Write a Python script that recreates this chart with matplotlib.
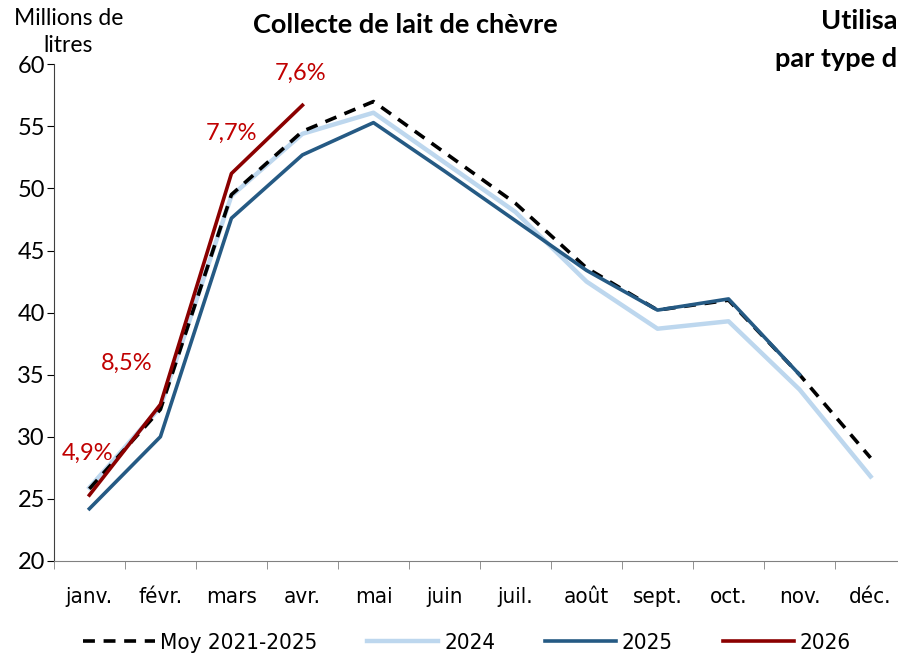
import numpy as np
import matplotlib

matplotlib.use("Agg")
import matplotlib.pyplot as plt
from matplotlib.ticker import FixedLocator, NullFormatter

# Monthly goat milk collection, millions of litres
months = ["janv.", "févr.", "mars", "avr.", "mai", "juin",
          "juil.", "août", "sept.", "oct.", "nov.", "déc."]
moy_2021_2025 = [25.8, 32.2, 49.5, 54.6, 57.0, 52.9, 48.8, 43.6, 40.2, 41.0, 35.0, 28.3]
y2024 = [25.9, 32.4, 49.4, 54.4, 56.1, 52.1, 48.1, 42.5, 38.7, 39.3, 33.8, 26.8]
y2025 = [24.2, 30.0, 47.6, 52.7, 55.3, 51.4, 47.4, 43.4, 40.2, 41.1, 35.0]
y2026 = [25.3, 32.6, 51.2, 56.7]

# year-on-year change labels for 2026
pct_labels = ["4,9%", "8,5%", "7,7%", "7,6%"]
pct_x = [-0.03, 0.52, 2.0, 2.97]
pct_y = [28.7, 35.9, 54.4, 59.3]

RED = "#8B0000"
DARK_BLUE = "#255A84"
LIGHT_BLUE = "#BDD7EE"
LABEL_RED = "#C00000"

plt.rcParams["font.family"] = ["Lato", "DejaVu Sans"]
narrow = {"family": "DejaVu Sans", "stretch": "condensed", "size": 16}

fig = plt.figure(figsize=(8.98, 6.56), dpi=100)
ax = fig.add_axes([0.060, 0.145, 0.949, 0.757])

x = np.arange(len(months))
lw = 2.6
l_moy, = ax.plot(x[:len(moy_2021_2025)], moy_2021_2025, color="black", lw=lw,
                 dashes=(3.3, 2.4), label="Moy 2021-2025", zorder=3)
l_24, = ax.plot(x[:len(y2024)], y2024, color=LIGHT_BLUE, lw=lw + 0.6, label="2024", zorder=2)
l_25, = ax.plot(x[:len(y2025)], y2025, color=DARK_BLUE, lw=lw, label="2025", zorder=4)
l_26, = ax.plot(x[:len(y2026)], y2026, color=RED, lw=lw, label="2026", zorder=5)

for t, px, py in zip(pct_labels, pct_x, pct_y):
    ax.text(px, py, t, color=LABEL_RED, fontsize=17, ha="center", va="center")

ax.set_xlim(-0.5, 11.5)
ax.set_ylim(20, 60)
ax.set_yticks(np.arange(20, 61, 5))
ax.set_xticks(x)
ax.set_xticklabels(months, fontproperties=narrow)
ax.xaxis.set_minor_locator(FixedLocator(np.arange(-0.5, 12, 1)))
ax.xaxis.set_minor_formatter(NullFormatter())
ax.tick_params(axis="x", which="major", length=0, pad=19)
ax.tick_params(axis="x", which="minor", length=6, color="#808080", direction="out")
ax.tick_params(axis="y", length=5, labelsize=17, direction="out", pad=1.5)

for side in ("top", "right"):
    ax.spines[side].set_visible(False)
ax.spines["bottom"].set_color("#808080")
ax.spines["left"].set_color("#404040")

fig.text(0.076, 0.972, "Millions de", ha="center", va="center", fontsize=16.5)
fig.text(0.076, 0.930, "litres", ha="center", va="center", fontsize=16.5)
fig.text(0.451, 0.962, "Collecte de lait de chèvre", ha="center", va="center",
         fontsize=19.5, fontweight="bold")
# title of the neighbouring chart, cut by the edge
fig.text(0.999, 0.968, "Utilisa", ha="right", va="center", fontsize=19.5, fontweight="bold")
fig.text(0.999, 0.910, "par type d", ha="right", va="center", fontsize=19.5, fontweight="bold")

fig.legend(handles=[l_moy, l_24, l_25, l_26], loc="center", bbox_to_anchor=(0.52, 0.020),
           ncol=4, frameon=False, handlelength=3.2, columnspacing=2.25, handletextpad=0.25,
           prop=narrow)

fig.savefig("out.png", dpi=100)
